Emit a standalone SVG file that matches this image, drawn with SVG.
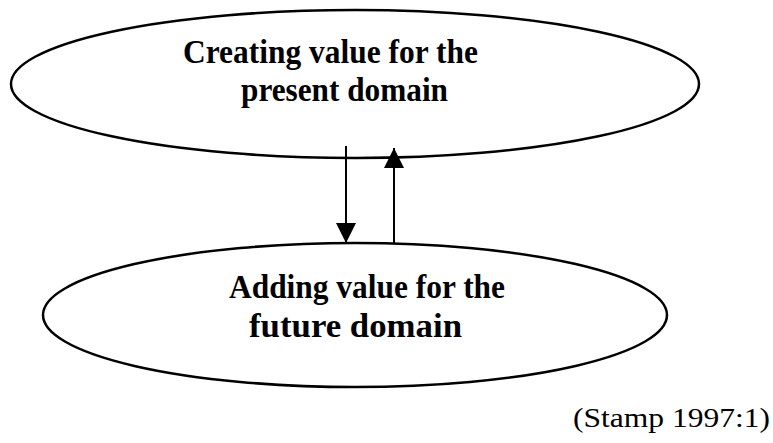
<svg xmlns="http://www.w3.org/2000/svg" width="773" height="443" viewBox="0 0 773 443">
  <style>
    .node ellipse { fill: #ffffff; stroke: #000000; stroke-width: 2.5; }
    .label { font-family: 'Liberation Serif', 'Times New Roman', Times, serif; font-weight: bold; font-size: 34px; fill: #000000; }
    .cite { font-family: 'Liberation Serif', 'Times New Roman', Times, serif; font-size: 27px; fill: #000000; }
    .edge { stroke: #000000; stroke-width: 2; fill: none; }
  </style>
  <defs>
    <!-- solid triangular arrowhead shared by both connectors -->
    <marker id="head" viewBox="0 0 20 20" refX="20" refY="10" markerWidth="20" markerHeight="20" markerUnits="userSpaceOnUse" orient="auto">
      <path d="M0,0 L20,10 L0,20 Z" fill="#000000"/>
    </marker>
  </defs>
  <rect width="773" height="443" fill="#ffffff"/>

  <g id="present">
    <g class="node">
      <ellipse cx="355" cy="84" rx="344" ry="74"/>
    </g>
    <text class="label" x="183" y="63" textLength="295" lengthAdjust="spacingAndGlyphs">Creating value for the</text>
    <text class="label" x="241" y="101" textLength="207" lengthAdjust="spacingAndGlyphs">present domain</text>
  </g>

  <g id="future">
    <g class="node">
      <ellipse cx="355" cy="315" rx="312" ry="72"/>
    </g>
    <text class="label" x="229" y="298" textLength="276" lengthAdjust="spacingAndGlyphs">Adding value for the</text>
    <text class="label" x="249" y="337" textLength="213" lengthAdjust="spacingAndGlyphs">future domain</text>
  </g>

  <g id="connectors">
    <line class="edge" x1="346" y1="146" x2="346" y2="243" marker-end="url(#head)"/>
    <line class="edge" x1="394" y1="243" x2="394" y2="148" marker-end="url(#head)"/>
  </g>

  <text class="cite" x="573" y="427" textLength="197" lengthAdjust="spacingAndGlyphs">(Stamp 1997:1)</text>
</svg>
